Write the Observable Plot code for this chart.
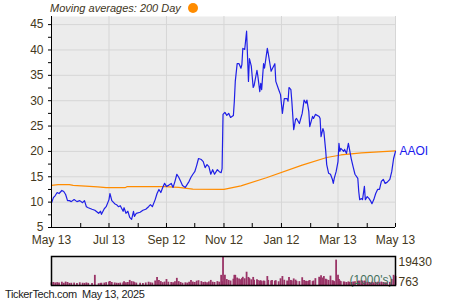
<!DOCTYPE html>
<html><head><meta charset="utf-8">
<script src="https://cdn.jsdelivr.net/npm/d3@7"></script>
<script src="https://cdn.jsdelivr.net/npm/@observablehq/plot@0.6"></script>
<style>
body{margin:0;background:#fff;font-family:"Liberation Sans",Arial,sans-serif;}
#wrap{position:relative;width:450px;height:300px;overflow:hidden;background:#fff;}
#main{position:absolute;left:0;top:0;}
#vol{position:absolute;left:0;top:250px;}
#title{position:absolute;left:50px;top:1px;font-size:11px;font-style:italic;color:#3e3522;line-height:14px;white-space:nowrap;}
#title .dot{display:inline-block;width:10px;height:10px;border-radius:50%;background:#ff8c00;margin-left:7px;vertical-align:-1px;}
#foot{position:absolute;left:5px;top:287px;font-size:11px;letter-spacing:-0.35px;color:#222;line-height:14px;white-space:nowrap;}
</style></head>
<body>
<div id="wrap">
  <div id="main"></div>
  <div id="vol"></div>
  <div id="title">Moving averages: 200 Day<span class="dot"></span></div>
  <div id="foot">TickerTech.com&nbsp;&nbsp;May 13, 2025</div>
</div>
<script>
const symbol = "AAOI";
const dates = [
"2024-05-13","2024-05-15","2024-05-17","2024-05-19","2024-05-21","2024-05-24","2024-05-26","2024-05-28","2024-05-30","2024-06-01",
"2024-06-03","2024-06-06","2024-06-09","2024-06-12","2024-06-15","2024-06-17","2024-06-19","2024-06-21","2024-06-25","2024-06-28",
"2024-07-02","2024-07-04","2024-07-05","2024-07-08","2024-07-10","2024-07-13","2024-07-14","2024-07-16","2024-07-19","2024-07-21",
"2024-07-23","2024-07-25","2024-07-28","2024-07-29","2024-07-31","2024-08-02","2024-08-04","2024-08-06","2024-08-08","2024-08-09",
"2024-08-11","2024-08-15","2024-08-18","2024-08-21","2024-08-24","2024-08-26","2024-08-28","2024-08-31","2024-09-02","2024-09-04",
"2024-09-06","2024-09-08","2024-09-10","2024-09-12","2024-09-14","2024-09-17","2024-09-19","2024-09-21","2024-09-23","2024-09-25",
"2024-09-27","2024-09-29","2024-10-02","2024-10-04","2024-10-06","2024-10-08","2024-10-10","2024-10-12","2024-10-14","2024-10-16",
"2024-10-19","2024-10-21","2024-10-23","2024-10-25","2024-10-27","2024-10-29","2024-10-31","2024-11-02","2024-11-05","2024-11-07",
"2024-11-09","2024-11-10","2024-11-11","2024-11-13","2024-11-15","2024-11-17","2024-11-19","2024-11-22","2024-11-23","2024-11-24",
"2024-11-26","2024-11-28","2024-11-30","2024-12-01","2024-12-02","2024-12-04","2024-12-06","2024-12-08","2024-12-09","2024-12-11",
"2024-12-13","2024-12-14","2024-12-17","2024-12-18","2024-12-20","2024-12-21","2024-12-22","2024-12-24","2024-12-25","2024-12-28",
"2024-12-29","2025-01-01","2025-01-02","2025-01-05","2025-01-06","2025-01-09","2025-01-11","2025-01-13","2025-01-15","2025-01-18",
"2025-01-19","2025-01-20","2025-01-22","2025-01-23","2025-01-25","2025-01-27","2025-01-28","2025-01-31","2025-02-03","2025-02-05",
"2025-02-07","2025-02-08","2025-02-10","2025-02-11","2025-02-14","2025-02-15","2025-02-17","2025-02-21","2025-02-22","2025-02-23",
"2025-02-25","2025-02-26","2025-02-28","2025-03-01","2025-03-03","2025-03-05","2025-03-07","2025-03-08","2025-03-09","2025-03-11",
"2025-03-13","2025-03-14","2025-03-15","2025-03-16","2025-03-19","2025-03-20","2025-03-22","2025-03-24","2025-03-25","2025-03-27",
"2025-03-29","2025-03-31","2025-04-03","2025-04-04","2025-04-05","2025-04-07","2025-04-08","2025-04-10","2025-04-11","2025-04-13",
"2025-04-15","2025-04-17","2025-04-18","2025-04-20","2025-04-22","2025-04-24","2025-04-26","2025-04-28","2025-04-30","2025-05-02",
"2025-05-04","2025-05-07","2025-05-09","2025-05-11","2025-05-13"];
const close = [
9.8,10.9,11.3,11.9,11.7,12.3,12.1,11.5,10.3,10.3,
10.1,10.5,10.1,10.3,9.9,10.3,9.1,8.9,8.6,8.4,
7.8,8.2,7.6,8.7,9.1,10.5,11.7,10.3,9.7,9.5,
9.1,9.3,8.2,8.9,7.8,8.2,7.0,6.6,8.2,7.2,
7.8,8.0,8.4,8.6,9.1,9.5,9.1,10.5,11.7,12.5,
11.9,12.9,13.7,13.1,13.3,13.7,12.9,14.1,15.5,14.9,
14.1,13.3,12.9,13.5,14.1,14.9,15.5,16.0,17.2,18.6,
18.4,18.0,16.8,17.4,17.0,15.5,16.4,15.5,16.4,16.0,
15.8,16.6,27.3,27.7,27.1,27.5,26.7,27.1,29.9,33.8,
37.3,37.3,36.4,37.1,40.3,40.1,43.7,33.8,38.3,36.8,
32.6,33.0,36.0,34.8,31.8,33.4,32.2,37.3,36.4,40.3,
39.3,35.8,36.2,37.3,33.8,32.2,31.2,27.5,30.4,30.4,
29.9,32.6,32.2,29.9,24.3,26.3,26.5,25.5,27.5,30.1,
29.5,30.1,27.9,24.9,26.9,26.5,27.3,26.9,26.5,22.9,
24.5,23.9,20.0,17.4,15.7,15.5,14.5,13.7,14.7,16.0,
18.0,21.6,20.0,20.6,20.0,20.4,19.6,21.6,20.6,18.6,
17.0,15.5,14.7,12.1,10.5,10.7,10.5,13.1,10.5,11.1,
10.7,10.1,9.7,10.5,11.7,12.5,12.5,14.1,14.5,13.7,
13.9,14.5,16.0,18.6,20.0];
const volume = [
1800,2000,1700,1900,1600,2200,1500,2300,2000,1400,
1500,1600,1300,1800,1500,1400,1700,1400,1300,6800,
1200,1400,1500,1600,1900,2400,2600,2000,1700,1500,
1400,1600,1700,2500,1800,2000,3400,2600,2400,1900,
1600,1500,1400,1700,2200,1800,1600,3000,5400,3400,
2600,1900,2300,4000,2200,2000,1800,2500,4800,2600,
2000,1500,1800,1600,2200,3400,2300,2000,2900,3200,
2600,2000,2200,1800,2400,3400,2200,2000,2600,2200,
6800,2500,19430,6800,4000,3400,3000,4200,6800,6800,
5000,4400,3800,4600,5500,4500,8900,5400,4600,3800,
5400,3500,3800,3400,3000,3200,2600,3000,2800,6000,
3400,3000,3300,2900,3200,2500,4500,6000,3500,3000,
2600,5400,3400,3000,4400,3600,2800,2600,5200,3400,
2800,2600,3000,3300,2600,3000,4600,5500,5000,6600,
5000,6000,4200,3800,3400,6300,3200,3000,2600,17000,
6800,4000,3000,2600,2400,2200,2000,2400,2100,2000,
2300,2500,2700,3000,2800,3300,2600,3000,2400,2200,
2000,1900,2100,1800,2000,2200,1900,2300,2000,1800,
1900,2100,4000,6800,6000];
const maDates = ["2024-05-13","2024-05-20","2024-06-01","2024-06-05","2024-07-01","2024-07-10","2024-07-30","2024-08-01","2024-09-10","2024-09-25","2024-10-10","2024-11-12","2024-11-30","2024-12-27","2025-02-03","2025-03-01","2025-03-16","2025-04-07","2025-05-13"];
const maValues = [13.3,13.45,13.45,13.3,13.0,12.85,12.85,13.05,13.05,12.9,12.55,12.5,13.2,14.8,17.3,18.8,19.3,19.7,20.1];
const xTickDates = ["2024-05-13","2024-07-13","2024-09-12","2024-11-12","2025-01-12","2025-03-13","2025-05-13"];
const xTickLabels = ["May 13","Jul 13","Sep 12","Nov 12","Jan 12","Mar 13","May 13"];
const xMinorTickDates = ["2024-06-13","2024-08-13","2024-10-12","2024-12-12","2025-02-12","2025-04-13"];
const yTicks = [5,10,15,20,25,30,35,40,45];
const yMinorTicks = [7.5,12.5,17.5,22.5,27.5,32.5,37.5,42.5];
const yDomain = [5, 46.6];
const volMax = 19430, volMin = 763;
const volUnit = "(1000's)";

const parse = d3.utcParse("%Y-%m-%d");
const priceData = dates.map((d, i) => ({date: parse(d), close: close[i], vol: volume[i]}));
const maData = maDates.map((d, i) => ({date: parse(d), ma: maValues[i]}));
const xDomain = [parse(dates[0]), parse(dates[dates.length - 1])];
const majorTicks = xTickDates.map(parse);
const minorTicks = xMinorTickDates.map(parse);
const labelFor = (d) => xTickLabels[majorTicks.findIndex(t => +t === +d)];
const textColor = "#443820";
const font = {fontFamily: "'Liberation Sans', Arial, sans-serif", fontSize: "12px", background: "transparent", overflow: "visible"};

const main = Plot.plot({
  width: 450, height: 250,
  marginTop: 16, marginBottom: 23, marginLeft: 51, marginRight: 55,
  style: font,
  x: {type: "utc", domain: xDomain, axis: null},
  y: {domain: yDomain, axis: null},
  marks: [
    Plot.frame({fill: "#ececec", stroke: null}),
    Plot.gridY(yTicks, {stroke: "#d6d6d6", strokeOpacity: 1}),
    Plot.gridX(majorTicks, {stroke: "#d6d6d6", strokeOpacity: 1}),
    Plot.line(maData, {x: "date", y: "ma", stroke: "#ff8c00", strokeWidth: 1.2}),
    Plot.line(priceData, {x: "date", y: "close", stroke: "#1f1fe6", strokeWidth: 1.2}),
    Plot.axisY(yTicks, {tickSize: 3, tickPadding: 5, fontSize: 12, fill: textColor, stroke: "#000"}),
    Plot.axisY(yMinorTicks, {tickSize: 3, text: null, stroke: "#000"}),
    Plot.axisX(majorTicks, {tickSize: 0, tickPadding: 8, fontSize: 12, fill: textColor, tickFormat: labelFor}),
    Plot.axisX([...majorTicks, ...minorTicks], {tickSize: -4, text: null, stroke: "#000"}),
    Plot.ruleX([xDomain[0]], {stroke: "#000"}),
    Plot.ruleY([yDomain[0]], {stroke: "#000"}),
    Plot.text([priceData[priceData.length - 1]], {x: "date", y: "close", text: () => symbol, dx: 4, textAnchor: "start", fill: "#1a1aee", fontSize: 12})
  ]
});
document.getElementById("main").appendChild(main);

const vol = Plot.plot({
  width: 450, height: 50,
  marginTop: 6, marginBottom: 15, marginLeft: 51, marginRight: 55,
  style: font,
  x: {type: "utc", domain: xDomain, axis: null},
  y: {domain: [0, volMax], axis: null},
  marks: [
    Plot.frame({fill: "#ececec", stroke: null}),
    Plot.ruleX(priceData, {x: "date", y: "vol", stroke: "#993366", strokeWidth: 1.8}),
    Plot.text([volUnit], {frameAnchor: "bottom-right", text: d => d, dx: -3, dy: -5, lineAnchor: "middle", textAnchor: "end", fill: "#45705d", fontSize: 12}),
    Plot.frame({stroke: "#000", strokeWidth: 1.5}),
    Plot.text([String(volMax)], {frameAnchor: "top-right", text: d => d, dx: 3, dy: 6, lineAnchor: "middle", textAnchor: "start", fill: textColor, fontSize: 12}),
    Plot.text([String(volMin)], {frameAnchor: "bottom-right", text: d => d, dx: 3, dy: -3, lineAnchor: "middle", textAnchor: "start", fill: textColor, fontSize: 12})
  ]
});
document.getElementById("vol").appendChild(vol);
</script>
</body></html>
